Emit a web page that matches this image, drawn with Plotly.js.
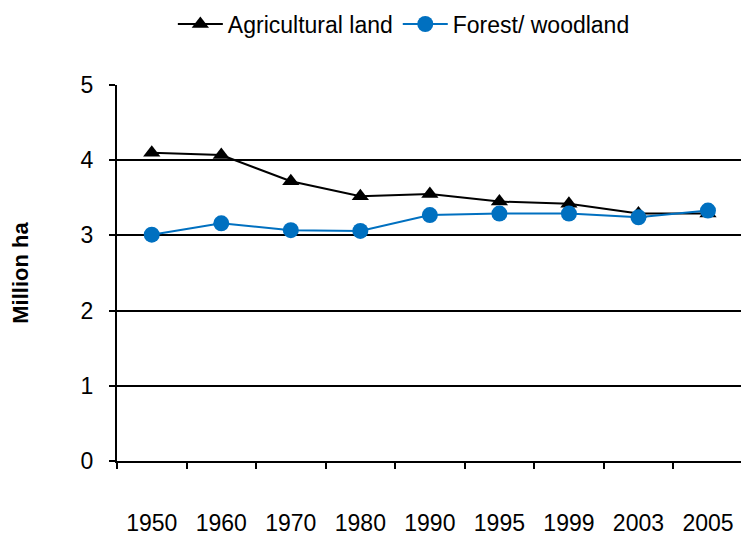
<!DOCTYPE html>
<html><head><meta charset="utf-8">
<script src="https://cdn.plot.ly/plotly-3.0.1.min.js"></script>
<style>html,body{margin:0;padding:0;background:#fff}#chart{width:741px;height:535px}</style>
</head><body><div id="chart"></div>
<script>
const years = ['1950','1960','1970','1980','1990','1995','1999','2003','2005'];
const agricultural = [4.10, 4.07, 3.72, 3.52, 3.55, 3.45, 3.42, 3.29, 3.29];
const forest = [3.01, 3.16, 3.07, 3.06, 3.27, 3.29, 3.29, 3.24, 3.33];
const yTicks = [0,1,2,3,4,5];

const traces = [
  {x: years, y: agricultural, name: 'Agricultural land', type: 'scatter', mode: 'lines+markers',
   line: {color: '#000000', width: 2}, marker: {symbol: 'triangle-up', size: 15, color: '#000000'}},
  {x: years, y: forest, name: 'Forest/ woodland', type: 'scatter', mode: 'lines+markers',
   line: {color: '#0070C0', width: 2}, marker: {symbol: 'circle', size: 16, color: '#0070C0'}}
];
const layout = {
  width: 741, height: 535,
  margin: {l: 117, r: 0, t: 85, b: 74},
  paper_bgcolor: '#fff', plot_bgcolor: '#fff',
  font: {family: 'Liberation Sans, Arial, sans-serif', size: 23, color: '#000'},
  showlegend: true,
  legend: {orientation: 'h', xref: 'container', yref: 'container', x: 0.545, xanchor: 'center',
           y: 0.955, yanchor: 'middle', font: {size: 23}, tracegroupgap: 0, itemwidth: 45},
  xaxis: {type: 'category', range: [-0.5, 8.475], showgrid: false, showline: true,
          linecolor: '#000', linewidth: 1.8, ticks: 'outside', tickson: 'boundaries',
          ticklen: 6, tickcolor: '#000', tickwidth: 1.5, ticklabelstandoff: 40,
          tickfont: {size: 23}, zeroline: false},
  yaxis: {range: [0, 5], tickvals: yTicks, showgrid: true, gridcolor: '#000', gridwidth: 1.6,
          showline: true, linecolor: '#000', linewidth: 2, ticks: 'outside', ticklen: 6,
          tickcolor: '#000', tickwidth: 1.5, tickfont: {size: 23}, zeroline: false,
          ticklabelstandoff: 11, automargin: true,
          title: {text: '<b>Million ha</b>', font: {size: 22}, standoff: 46}}
};
Plotly.newPlot('chart', traces, layout, {displayModeBar: false});
</script></body></html>
